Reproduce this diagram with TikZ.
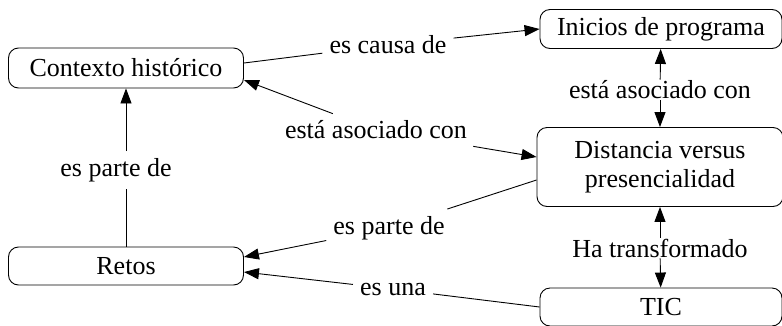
\documentclass[tikz,border=0pt]{standalone}
\usepackage{fontspec}
\setmainfont{Liberation Serif}
\usetikzlibrary{arrows.meta,calc}
\begin{document}
\begin{tikzpicture}[x=1pt,y=-1pt,
  concept/.style={draw, rounded corners=10pt, line width=0.9pt, align=center, inner sep=0pt},
  linklabel/.style={inner sep=7pt},
  plain/.style={line width=0.9pt},
  arr/.style={line width=0.9pt, -{Triangle[length=15pt,width=11pt]}},
  font=\fontsize{26}{29}\selectfont]
\useasboundingbox (0,0) rectangle (782,325);
% concepts
\node[concept, minimum width=235pt, minimum height=40pt] (ctx) at (126,68) {Contexto histórico};
\node[concept, minimum width=242pt, minimum height=39pt] (ini) at (661,29) {Inicios de programa};
\node[concept, minimum width=246pt, minimum height=79pt] (dist) at (660,167) {Distancia versus\\presencialidad};
\node[concept, minimum width=235pt, minimum height=38pt] (ret) at (126,266) {Retos};
\node[concept, minimum width=242pt, minimum height=38pt] (tic) at (661,307) {TIC};
% link labels
\node[linklabel] (causa) at (388,45) {es causa de};
\node[linklabel] (asocA) at (376,130) {está asociado con};
\node[linklabel, inner sep=1pt] (asocB) at (660,90) {está asociado con};
\node[linklabel] (parteA) at (116,170) {es parte de};
\node[linklabel] (parteB) at (389,228) {es parte de};
\node[linklabel, inner sep=1pt] (trans) at (660,248) {Ha transformado};
\node[linklabel] (una) at (393,289) {es una};
% connectors
\draw[plain] ($(ctx.east)+(0,-5)$) -- (causa);
\draw[arr] (causa) -- (ini.west);
\draw[arr] (asocA) -- ($(ctx.east)+(0,12)$);
\draw[arr] (asocA) -- ($(dist.west)+(0,-10)$);
\draw[arr] (asocB) -- (ini);
\draw[arr] (asocB) -- (dist);
\draw[plain] (ret.north) -- (ret.north |- parteA.south);
\draw[arr] (parteA.north -| ret.north) -- (ctx);
\draw[plain] ($(dist.west)+(0,13)$) -- (parteB);
\draw[arr] (parteB) -- ($(ret.east)+(0,-9)$);
\draw[arr] (trans) -- (dist);
\draw[arr] (trans) -- (tic);
\draw[plain] (tic.west) -- (una);
\draw[arr] (una) -- ($(ret.east)+(0,6)$);
\end{tikzpicture}
\end{document}
